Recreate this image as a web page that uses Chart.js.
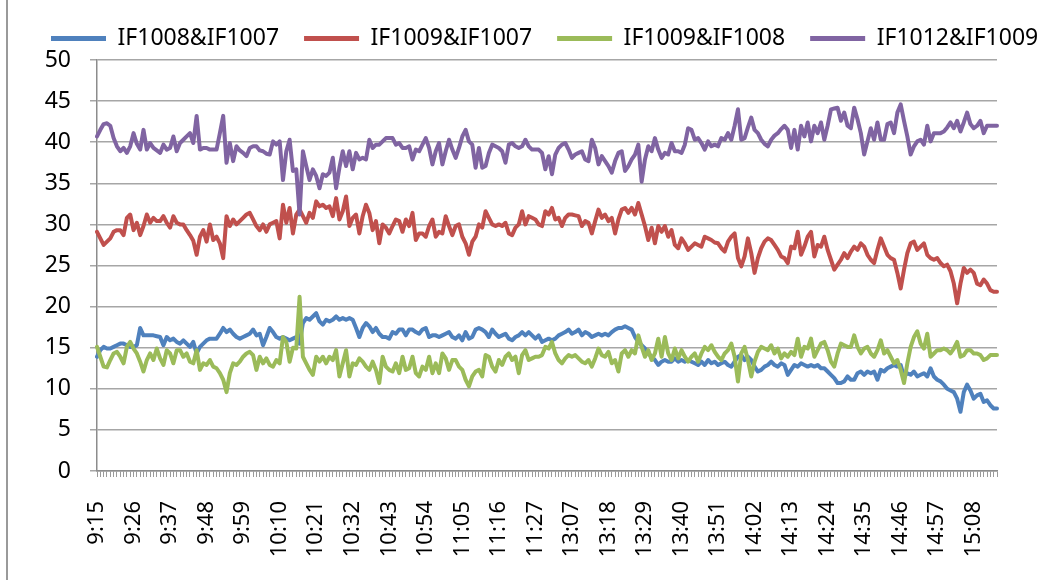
<!DOCTYPE html>
<html>
<head>
<meta charset="utf-8">
<script src="https://cdn.jsdelivr.net/npm/chart.js@4.4.1/dist/chart.umd.min.js"></script>
<style>
  html, body { margin: 0; padding: 0; background: #ffffff; }
  #wrap { width: 1061px; height: 580px; }
</style>
</head>
<body>
<div id="wrap"><canvas id="spreadChart" width="1061" height="580"></canvas></div>
<script>
// trading sessions (minutes from midnight), one point per minute
const sesiones = [[9 * 60 + 15, 11 * 60 + 30], [13 * 60, 15 * 60 + 15]];
const labelCada = 11; // a tick label every 11 minutes

const nombres = ["IF1008&IF1007", "IF1009&IF1007", "IF1009&IF1008", "IF1012&IF1009"];
const colores = ["#4F81BD", "#C0504D", "#9BBB59", "#8064A2"];

const yTicks = [0, 5, 10, 15, 20, 25, 30, 35, 40, 45, 50];

// IF1008&IF1007
const spread0807 = [
  13.9, 14.7, 15.1, 14.9, 14.9, 15.1, 15.3, 15.5, 15.5, 15.3, 15.1, 15.1, 15.3, 17.4, 16.5, 16.5, 16.5, 16.5, 16.4, 16.3,
  15.3, 16.3, 15.9, 16.1, 15.7, 15.5, 15.9, 15.5, 15.1, 15.7, 14.3, 15.1, 15.5, 15.9, 16.1, 16.1, 16.1, 16.7, 17.4, 16.9,
  17.2, 16.7, 16.3, 16.1, 16.3,
  16.5, 16.7, 17.2, 16.5, 16.7, 15.3, 16.3, 17.4, 16.9, 16.3, 16.1, 16.3, 16.1, 15.9, 16.1, 16.3, 15.5, 18.0, 18.6, 18.4,
  18.8, 19.2, 18.2, 17.8, 18.4, 18.2, 18.4, 18.8, 18.4, 18.6, 18.4, 18.6, 18.4, 17.4, 16.3, 17.4, 18.0, 17.6, 16.9, 17.4,
  16.7, 16.3, 16.3, 16.1,
  16.9, 16.7, 17.2, 17.2, 16.5, 17.2, 17.2, 16.9, 16.7, 17.2, 17.4, 16.3, 16.5, 16.5, 16.3, 16.5, 16.7, 16.9, 16.3, 16.1,
  16.5, 15.9, 16.9, 16.1, 16.3, 17.2, 17.4, 17.2, 16.9, 16.3, 17.2, 16.7, 16.3, 16.5, 16.7, 16.1, 15.9, 16.3, 16.5, 16.9,
  16.5, 16.9, 16.5, 16.1, 16.5, 15.7, 15.9,
  16.1, 15.9, 16.1, 16.5, 16.7, 16.9, 17.2, 16.7, 16.9, 17.2, 16.5, 16.9, 16.7, 16.3, 16.5, 16.7, 16.5, 16.7, 16.5, 16.9,
  17.2, 17.4, 17.4, 17.6, 17.4, 17.2, 16.3, 15.7, 15.3, 14.9, 14.3, 13.9, 13.5, 12.9, 13.3, 13.5, 13.3, 13.3, 13.7, 13.3,
  13.5, 13.3, 13.5, 13.3, 13.1,
  12.9, 13.3, 12.9, 13.5, 13.1, 13.3, 12.9, 13.1, 13.3, 12.9, 12.7, 13.3, 13.9, 14.1, 13.5, 13.9, 13.5, 12.7, 12.1, 12.3,
  12.7, 12.9, 13.3, 12.9, 12.7, 13.1, 12.9, 11.7, 12.3, 12.9, 12.7, 13.1, 12.9, 12.7, 12.9, 12.7, 12.9, 12.5, 12.5, 12.1,
  11.7, 11.3, 10.7, 10.7, 10.9, 11.5,
  11.1, 11.1, 11.9, 12.1, 11.7, 12.1, 11.9, 12.1, 11.1, 12.3, 12.1, 12.5, 12.7, 12.9, 12.7, 12.9, 11.5, 11.9, 11.7, 12.1,
  11.5, 11.7, 11.9, 11.5, 12.5, 11.5, 11.1, 10.9, 10.5, 10.0, 9.8, 9.6, 8.8, 7.2, 9.6, 10.5, 9.8, 8.8, 9.2, 9.4,
  8.4, 8.6, 8.0, 7.6, 7.6
];

// IF1009&IF1007
const spread0907 = [
  29.1, 28.3, 27.5, 27.9, 28.3, 29.1, 29.3, 29.3, 28.7, 30.8, 31.2, 29.3, 30.2, 28.7, 29.8, 31.2, 30.2, 30.8, 30.4, 30.4,
  31.0, 30.2, 29.6, 31.0, 30.2, 30.0, 30.0, 29.3, 28.7, 28.0, 26.3, 28.5, 29.3, 27.9, 30.0, 28.1, 28.5, 27.7, 25.9, 31.0,
  29.8, 30.6, 30.0, 30.4, 30.8, 31.2,
  31.4, 30.6, 29.8, 29.3, 30.0, 29.1, 30.0, 30.2, 30.4, 28.3, 32.4, 30.2, 32.0, 28.9, 31.2, 31.8, 31.0, 30.2, 31.4, 30.8,
  32.8, 32.2, 32.4, 32.0, 32.2, 31.0, 33.2, 30.6, 31.6, 33.4, 29.8, 30.8, 31.2, 28.9, 31.0, 32.4, 31.4, 29.3, 30.4, 27.7,
  30.0, 29.6, 28.9,
  29.8, 30.6, 30.4, 29.1, 30.6, 29.8, 31.4, 28.1, 28.9, 28.9, 28.5, 29.8, 30.6, 28.5, 29.1, 28.9, 31.0, 29.8, 28.7, 29.8,
  30.0, 28.5, 27.7, 26.3, 27.9, 28.5, 30.0, 29.6, 31.6, 30.8, 30.0, 29.8, 30.0, 29.8, 30.2, 28.9, 28.7, 29.6, 30.0, 31.6,
  30.0, 31.0, 30.8, 30.6, 30.0, 29.8, 31.6,
  31.2, 32.0, 30.6, 30.8, 29.8, 30.8, 31.2, 31.2, 31.1, 31.0, 29.8, 30.4, 30.2, 28.9, 30.4, 31.8, 30.8, 31.2, 30.4, 30.8,
  28.9, 30.6, 31.8, 32.0, 31.4, 32.0, 31.2, 32.6, 31.2, 29.8, 28.1, 29.6, 27.7, 29.8, 29.1, 29.8, 28.5, 29.3, 27.5, 27.1,
  28.3, 27.7, 26.9, 27.3, 27.7,
  27.5, 27.3, 28.5, 28.3, 28.1, 27.8, 27.7, 27.1, 26.7, 27.9, 28.5, 28.9, 25.9, 24.9, 26.1, 28.3, 26.5, 24.1, 25.9, 27.1,
  27.9, 28.3, 28.1, 27.5, 26.9, 26.1, 25.9, 25.3, 27.3, 27.1, 29.1, 26.3, 27.3, 28.5, 29.1, 26.1, 27.5, 27.3, 28.5, 26.9,
  25.7, 24.5, 25.1,
  25.7, 26.5, 25.9, 26.7, 27.3, 26.9, 27.7, 27.3, 26.3, 25.7, 25.3, 26.9, 28.3, 27.3, 26.3, 25.9, 25.7, 24.1, 22.2, 24.5,
  26.5, 27.7, 27.9, 26.9, 27.3, 27.7, 26.3, 25.9, 25.7, 25.9, 25.3, 24.9, 25.1, 24.3, 22.8, 20.4, 22.8, 24.7, 24.1, 24.5,
  24.1, 22.8, 22.6, 23.3, 22.8, 22.0, 21.8, 21.8
];

// IF1009&IF1008
const spread0908 = [
  15.1, 13.9, 12.7, 12.6, 13.5, 14.3, 14.5, 13.9, 13.1, 15.1, 15.7, 14.9, 14.3, 13.3, 12.1, 13.5, 14.3, 13.5, 14.9, 13.7,
  12.9, 14.7, 14.3, 13.1, 14.7, 14.7, 13.9, 14.3, 13.3, 13.1, 14.7, 12.3, 13.1, 12.9, 13.5, 12.7, 12.5, 11.9, 11.1, 9.6,
  11.9, 13.1, 12.9, 13.3, 13.9, 14.3,
  14.5, 14.1, 12.3, 13.9, 13.1, 13.7, 12.9, 12.7, 13.5, 13.1, 16.3, 15.7, 13.3, 15.0, 14.9, 21.2, 13.9, 13.1, 12.3, 11.7,
  13.9, 13.3, 13.9, 13.1, 13.9, 13.5, 14.7, 11.5, 13.1, 14.7, 11.5, 13.1, 12.9, 13.7, 13.3, 12.7, 12.3, 13.3, 12.3, 10.7,
  13.9, 12.7, 12.3,
  12.1, 13.1, 11.9, 13.9, 12.3, 12.5, 13.9, 11.9, 11.5, 12.7, 12.3, 13.9, 11.9, 13.1, 11.9, 14.3, 13.7, 12.3, 13.5, 13.5,
  12.7, 12.3, 11.1, 10.3, 11.5, 12.1, 12.3, 11.5, 14.1, 13.9, 12.7, 12.1, 13.5, 12.9, 13.9, 14.3, 13.5, 13.9, 11.9, 14.1,
  14.7, 13.5, 13.7, 13.9, 13.9, 14.1, 15.1,
  14.9, 15.7, 14.3, 13.5, 13.1, 13.7, 14.1, 13.9, 14.1, 13.7, 13.3, 13.1, 13.5, 12.7, 13.7, 14.9, 14.1, 13.9, 14.5, 13.1,
  13.5, 12.1, 14.3, 14.7, 13.9, 14.7, 14.3, 16.5, 15.1, 13.9, 14.7, 13.5, 14.3, 16.1, 13.9, 16.3, 14.3, 13.5, 14.9, 13.7,
  14.7, 13.9, 13.3, 13.9, 14.3,
  13.3, 14.3, 15.1, 14.7, 15.3, 14.5, 13.9, 13.5, 14.3, 14.7, 15.5, 13.9, 10.9, 14.3, 15.1, 13.5, 11.5, 13.3, 14.5, 15.1,
  14.9, 14.7, 15.3, 14.3, 14.9, 13.7, 14.3, 13.9, 14.5, 14.1, 16.1, 13.9, 15.1, 14.9, 16.1, 13.9, 14.7, 15.5, 15.7, 14.7,
  13.3, 12.7, 14.3, 15.5, 15.3, 15.1,
  15.1, 16.5, 15.1, 14.3, 14.9, 15.1, 14.3, 13.9, 14.7, 15.9, 14.3, 14.7, 13.9, 13.1, 13.5, 12.3, 10.7, 13.1, 15.1, 16.3,
  17.0, 15.5, 14.9, 16.7, 13.9, 14.3, 14.7, 14.7, 14.9, 14.7, 14.3, 14.9, 15.7, 13.9, 14.1, 14.7, 14.7, 14.3, 14.3, 14.1,
  13.5, 13.7, 14.1, 14.1, 14.1
];

// IF1012&IF1009
const spread1209 = [
  40.7, 41.5, 42.2, 42.3, 42.0, 40.5, 39.5, 38.9, 39.3, 38.7, 39.5, 41.1, 39.8, 39.1, 41.5, 39.1, 39.9, 39.3, 39.0, 38.7,
  39.7, 39.1, 39.3, 40.7, 38.9, 39.9, 40.3, 40.7, 41.1, 39.9, 43.2, 39.1, 39.3, 39.3, 39.1, 39.1, 39.1, 41.1, 43.2, 37.5,
  39.9, 37.7, 39.5, 39.0, 38.7, 38.3,
  39.3, 39.5, 39.5, 39.0, 38.9, 38.6, 38.5, 40.1, 39.7, 40.1, 35.4, 38.9, 40.3, 36.5, 36.7, 31.2, 38.9, 37.1, 35.4, 36.7,
  35.9, 34.4, 36.1, 35.9, 36.3, 38.1, 34.4, 36.9, 38.9, 37.1, 38.9, 36.7, 38.7, 37.9, 38.1, 37.9, 40.3, 39.3, 39.7, 39.7,
  40.1, 40.5,
  40.5, 40.5, 39.7, 39.9, 39.3, 39.3, 39.5, 37.9, 39.1, 38.9, 39.7, 40.5, 39.3, 37.3, 38.9, 39.9, 37.3, 38.9, 40.3, 39.1,
  38.1, 39.3, 40.7, 41.5, 40.1, 39.7, 36.9, 39.3, 36.9, 37.1, 38.7, 39.7, 39.5, 39.3, 38.9, 37.5, 39.7, 39.9, 39.5, 39.3,
  39.5, 40.3, 39.5, 39.1, 39.1, 39.1, 38.7, 36.7,
  38.3, 36.1, 38.5, 39.3, 39.7, 39.9, 39.1, 38.1, 38.5, 38.7, 38.9, 37.9, 37.7, 40.3, 39.3, 37.3, 38.3, 37.7, 37.1, 36.3,
  37.7, 38.7, 38.9, 36.5, 37.1, 37.9, 38.5, 39.7, 35.2, 37.9, 39.5, 38.9, 40.5, 39.1, 38.1, 38.7, 38.5, 39.9, 38.9, 38.9,
  38.7, 39.7, 41.7, 41.5, 40.3,
  40.5, 39.9, 39.1, 40.1, 39.5, 39.7, 39.5, 40.5, 40.3, 41.1, 40.3, 42.0, 44.0, 40.3, 40.5, 41.8, 43.0, 41.5, 41.1, 40.3,
  39.8, 39.5, 40.3, 40.8, 41.1, 41.6, 42.0, 41.5, 39.3, 41.5, 39.1, 42.0, 40.7, 42.4, 40.1, 42.0, 41.1, 42.4, 40.3, 42.0,
  44.0, 44.1, 44.2,
  42.6, 43.6, 42.0, 41.7, 44.2, 42.8, 41.1, 38.5, 40.1, 41.7, 40.3, 42.4, 40.3, 40.3, 42.2, 42.4, 41.1, 43.6, 44.6, 42.6,
  40.7, 38.5, 39.5, 40.1, 40.3, 39.7, 42.0, 40.1, 41.1, 41.1, 41.1, 41.3, 41.8, 42.4, 41.7, 42.6, 41.3, 42.4, 43.6, 42.2,
  41.7, 42.0, 42.6, 41.1, 42.0, 42.0, 42.0, 42.0
];

const series = [spread0807, spread0907, spread0908, spread1209];

// category labels h:mm for every minute of both sessions
function construirMinutos(rangos) {
  const out = [];
  rangos.forEach(r => {
    for (let m = r[0]; m <= r[1]; m++) {
      const h = Math.floor(m / 60);
      const mm = m % 60;
      out.push(h + ":" + (mm < 10 ? "0" : "") + mm);
    }
  });
  return out;
}
const minutos = construirMinutos(sesiones);

const FUENTE = "'Noto Sans', 'DejaVu Sans', sans-serif";
const LEYENDA_X = 51; // donde empieza la primera muestra de la leyenda

// marco gris a la izquierda, como en la hoja original
const marcoPlugin = {
  id: "marco",
  beforeDraw(chart) {
    const ctx = chart.ctx;
    ctx.save();
    ctx.strokeStyle = "#9a9a9a";
    ctx.lineWidth = 2;
    ctx.beginPath();
    ctx.moveTo(7, 0);
    ctx.lineTo(7, chart.height);
    ctx.stroke();
    ctx.restore();
  }
};

// la leyenda de Excel no está centrada: se corre hasta LEYENDA_X
const leyendaOffset = {
  id: "leyendaOffset",
  afterLayout(chart) {
    const lg = chart.legend;
    if (!lg || !lg.lineWidths) return;
    const pad = lg.options.labels.padding;
    const x0 = (lg.left + pad + lg.right - lg.lineWidths[0]) / 2;
    const shift = LEYENDA_X - x0;
    lg.left += shift;
    lg.right += shift;
  }
};

const ctx = document.getElementById("spreadChart").getContext("2d");

new Chart(ctx, {
  type: "line",
  data: {
    labels: minutos,
    datasets: series.map((valores, i) => ({
      label: nombres[i],
      data: valores,
      borderColor: colores[i],
      backgroundColor: colores[i],
      borderWidth: 4,
      pointRadius: 0,
      tension: 0,
      borderJoinStyle: "round",
      borderCapStyle: "round",
      order: series.length - i, // la última serie queda encima
    })),
  },
  options: {
    responsive: false,
    animation: false,
    devicePixelRatio: 1,
    layout: {
      padding: { left: 0, right: 0, top: 2, bottom: 0 },
    },
    plugins: {
      legend: {
        position: "top",
        maxHeight: 58,
        labels: {
          font: { family: FUENTE, size: 23 },
          color: "#000000",
          boxWidth: 55,
          boxHeight: 5,
          padding: 25,
          sort: (a, b) => a.datasetIndex - b.datasetIndex,
          generateLabels(chart) {
            const items = Chart.defaults.plugins.legend.labels.generateLabels(chart);
            items.forEach(it => {
              it.lineWidth = 0;
              it.fillStyle = it.strokeStyle;
            });
            return items;
          },
        },
      },
      tooltip: { enabled: false },
    },
    scales: {
      x: {
        type: "category",
        offset: false,
        afterFit(scale) {
          scale.height = 109;
        },
        ticks: {
          autoSkip: false,
          maxRotation: 90,
          minRotation: 90,
          padding: 24,
          color: "#000000",
          font: { family: FUENTE, size: 22 },
          callback: function (value, index) {
            return index % labelCada === 0 ? this.getLabelForValue(value) : "";
          },
        },
        grid: {
          drawOnChartArea: false,
          drawTicks: true,
          tickLength: 6,
          color: "#9a9a9a",
          lineWidth: 1,
        },
        border: { color: "#8c8c8c", width: 1.5 },
      },
      y: {
        min: 0,
        max: 50,
        afterFit(scale) {
          scale.width = 97;
        },
        afterBuildTicks(scale) {
          scale.ticks = yTicks.map(v => ({ value: v }));
        },
        ticks: {
          padding: 19,
          color: "#000000",
          font: { family: FUENTE, size: 23 },
        },
        grid: {
          color: "#a6a6a6",
          lineWidth: 1.5,
          tickLength: 7,
        },
        border: { color: "#8c8c8c", width: 1.5 },
      },
      // eje vacío a la derecha: deja el margen blanco tras el área de trazado
      margenDer: {
        type: "linear",
        position: "right",
        afterFit(scale) {
          scale.width = 64;
        },
        ticks: { display: false },
        grid: { display: false },
        border: { display: false },
      },
    },
  },
  plugins: [marcoPlugin, leyendaOffset],
});
</script>
</body>
</html>
